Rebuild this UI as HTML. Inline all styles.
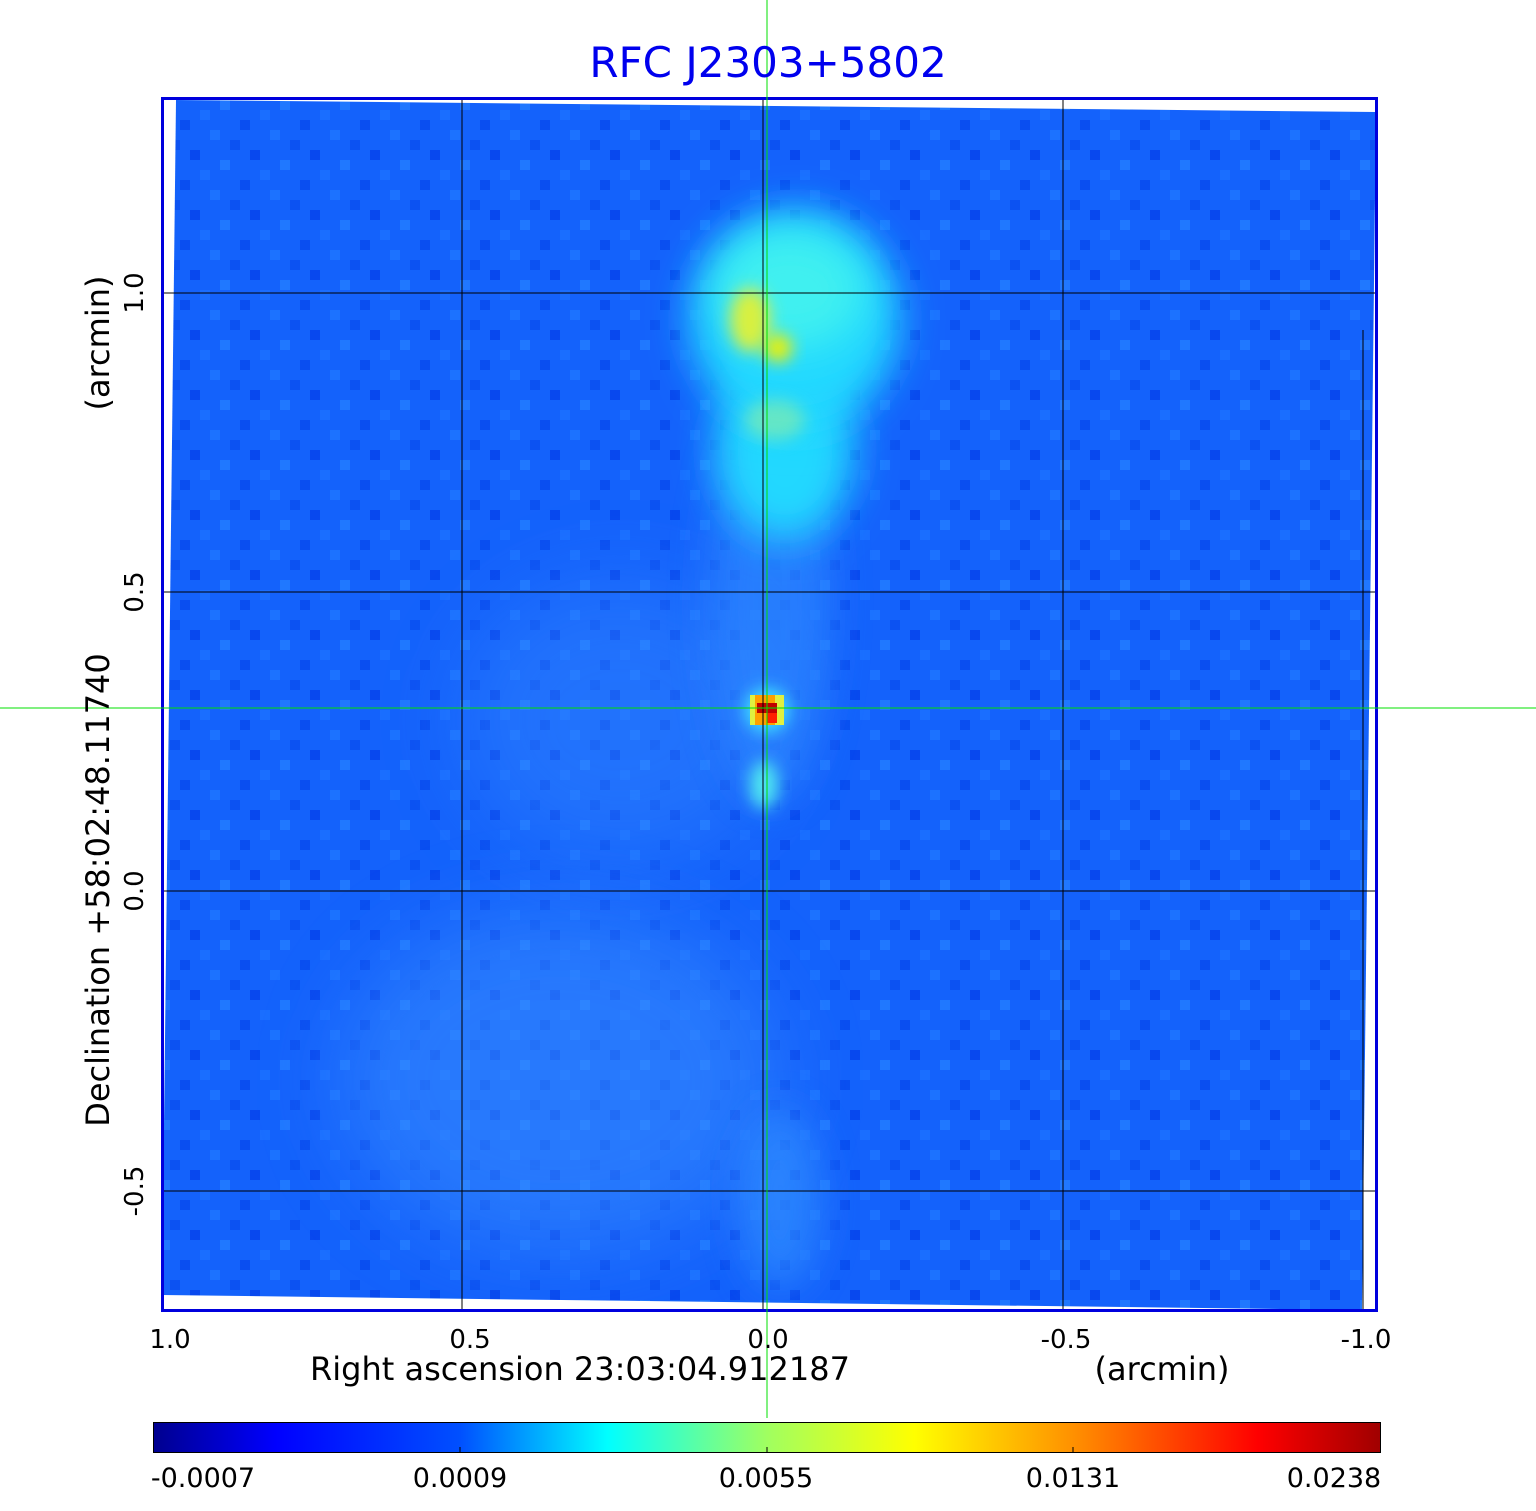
<!DOCTYPE html>
<html><head><meta charset="utf-8"><style>
body{margin:0;background:#fff;}
svg{display:block;font-family:"DejaVu Sans","Liberation Sans",sans-serif;}
</style></head><body>
<svg width="1536" height="1511" viewBox="0 0 1536 1511" xmlns="http://www.w3.org/2000/svg">
<defs>
<filter id="b20" x="-50%" y="-50%" width="200%" height="200%"><feGaussianBlur stdDeviation="20"/></filter>
<filter id="b8" x="-50%" y="-50%" width="200%" height="200%"><feGaussianBlur stdDeviation="8"/></filter>
<filter id="b40" x="-50%" y="-50%" width="200%" height="200%"><feGaussianBlur stdDeviation="40"/></filter>
<clipPath id="cp"><polygon points="176,100 1376,112 1362,1310 162,1295"/></clipPath>
<linearGradient id="jet" x1="0" x2="1" y1="0" y2="0">
<stop offset="0" stop-color="#00008f"/>
<stop offset="0.1" stop-color="#0000ff"/>
<stop offset="0.25" stop-color="#0050ff"/>
<stop offset="0.37" stop-color="#00ffff"/>
<stop offset="0.5" stop-color="#a0ff60"/>
<stop offset="0.62" stop-color="#ffff00"/>
<stop offset="0.75" stop-color="#ff9000"/>
<stop offset="0.9" stop-color="#ff0000"/>
<stop offset="1" stop-color="#a00000"/>
</linearGradient>
<pattern id="noise" width="60" height="60" patternUnits="userSpaceOnUse">
<rect width="60" height="60" fill="#1462fb"/>
<rect x="0" y="0" width="10" height="10" fill="#0a4ef0"/>
<rect x="30" y="10" width="10" height="10" fill="#1c72ff"/>
<rect x="10" y="30" width="10" height="10" fill="#0848ee"/>
<rect x="40" y="40" width="10" height="10" fill="#2078ff"/>
<rect x="50" y="20" width="10" height="10" fill="#0c52f2"/>
<rect x="20" y="50" width="10" height="10" fill="#1a6eff"/>
</pattern>
</defs>
<g clip-path="url(#cp)">
<rect x="160" y="95" width="1220" height="1220" fill="url(#noise)"/>
<ellipse cx="560" cy="1080" rx="220" ry="170" fill="#3a90ff" opacity="0.5" filter="url(#b40)"/>
<ellipse cx="620" cy="720" rx="160" ry="140" fill="#3a90ff" opacity="0.35" filter="url(#b40)"/>
<ellipse cx="770" cy="600" rx="60" ry="200" fill="#2e88ff" opacity="0.7" filter="url(#b20)"/>
<ellipse cx="780" cy="1200" rx="40" ry="90" fill="#3090ff" opacity="0.7" filter="url(#b20)"/>
<ellipse cx="785" cy="450" rx="70" ry="90" fill="#22d8ff" filter="url(#b20)"/>
<ellipse cx="795" cy="320" rx="105" ry="110" fill="#22d8ff" filter="url(#b20)"/>
<ellipse cx="790" cy="290" rx="75" ry="60" fill="#40f0f0" filter="url(#b20)"/>
<ellipse cx="750" cy="320" rx="20" ry="32" fill="#d8f040" filter="url(#b8)"/>
<ellipse cx="778" cy="348" rx="14" ry="14" fill="#f0f000" filter="url(#b8)"/>
<ellipse cx="775" cy="420" rx="30" ry="20" fill="#90f0a0" opacity="0.6" filter="url(#b8)"/>
<ellipse cx="764" cy="785" rx="14" ry="24" fill="#50e8f0" filter="url(#b8)"/>
<ellipse cx="767" cy="710" rx="22" ry="22" fill="#40e0ff" filter="url(#b8)"/>
<rect x="750" y="695" width="34" height="30" fill="#e0f040"/>
<rect x="755" y="695" width="20" height="30" fill="#ffa000"/>
<rect x="757" y="703" width="20" height="10" fill="#c00000"/>
<rect x="767" y="713" width="10" height="10" fill="#ff2000"/>
</g>
<g stroke="#000" stroke-width="1">
<line x1="462" y1="97" x2="462" y2="1311"/><line x1="763" y1="97" x2="763" y2="1311"/><line x1="1063" y1="97" x2="1063" y2="1311"/>
<line x1="162" y1="293" x2="1377" y2="293"/><line x1="162" y1="592" x2="1377" y2="592"/><line x1="162" y1="891" x2="1377" y2="891"/><line x1="162" y1="1191" x2="1377" y2="1191"/>
<line x1="1363" y1="330" x2="1363" y2="1311"/>
</g>
<rect x="162.5" y="98.5" width="1214" height="1212" fill="none" stroke="#0000dd" stroke-width="3"/>
<line x1="767" y1="0" x2="767" y2="1418" stroke="#00e000" stroke-width="1"/>
<line x1="0" y1="708" x2="1536" y2="708" stroke="#00e000" stroke-width="1"/>
<text x="768" y="77" text-anchor="middle" font-size="42" fill="#0000ee">RFC J2303+5802</text>
<g font-size="26" fill="#000">
<text x="170" y="1348" text-anchor="middle">1.0</text>
<text x="470" y="1348" text-anchor="middle">0.5</text>
<text x="768" y="1348" text-anchor="middle">0.0</text>
<text x="1066" y="1348" text-anchor="middle">-0.5</text>
<text x="1366" y="1348" text-anchor="middle">-1.0</text>
<text x="580" y="1380" text-anchor="middle" font-size="32">Right ascension  23:03:04.912187</text>
<text x="1162" y="1380" text-anchor="middle" font-size="32">(arcmin)</text>
<text transform="translate(143,293) rotate(-90)" text-anchor="middle">1.0</text>
<text transform="translate(143,592) rotate(-90)" text-anchor="middle">0.5</text>
<text transform="translate(143,891) rotate(-90)" text-anchor="middle">0.0</text>
<text transform="translate(143,1191) rotate(-90)" text-anchor="middle">-0.5</text>
<text transform="translate(109,890) rotate(-90)" text-anchor="middle" font-size="32">Declination  +58:02:48.11740</text>
<text transform="translate(109,343) rotate(-90)" text-anchor="middle" font-size="32">(arcmin)</text>
</g>
<rect x="153.5" y="1422.5" width="1227" height="30" fill="url(#jet)" stroke="#000" stroke-width="1"/>
<g stroke="#000"><line x1="460" y1="1447" x2="460" y2="1453"/><line x1="767" y1="1447" x2="767" y2="1453"/><line x1="1073" y1="1447" x2="1073" y2="1453"/></g>
<g font-size="27" fill="#000" text-anchor="middle">
<text x="203" y="1487">-0.0007</text>
<text x="460" y="1487">0.0009</text>
<text x="766" y="1487">0.0055</text>
<text x="1073" y="1487">0.0131</text>
<text x="1334" y="1487">0.0238</text>
</g>
</svg>
</body></html>
